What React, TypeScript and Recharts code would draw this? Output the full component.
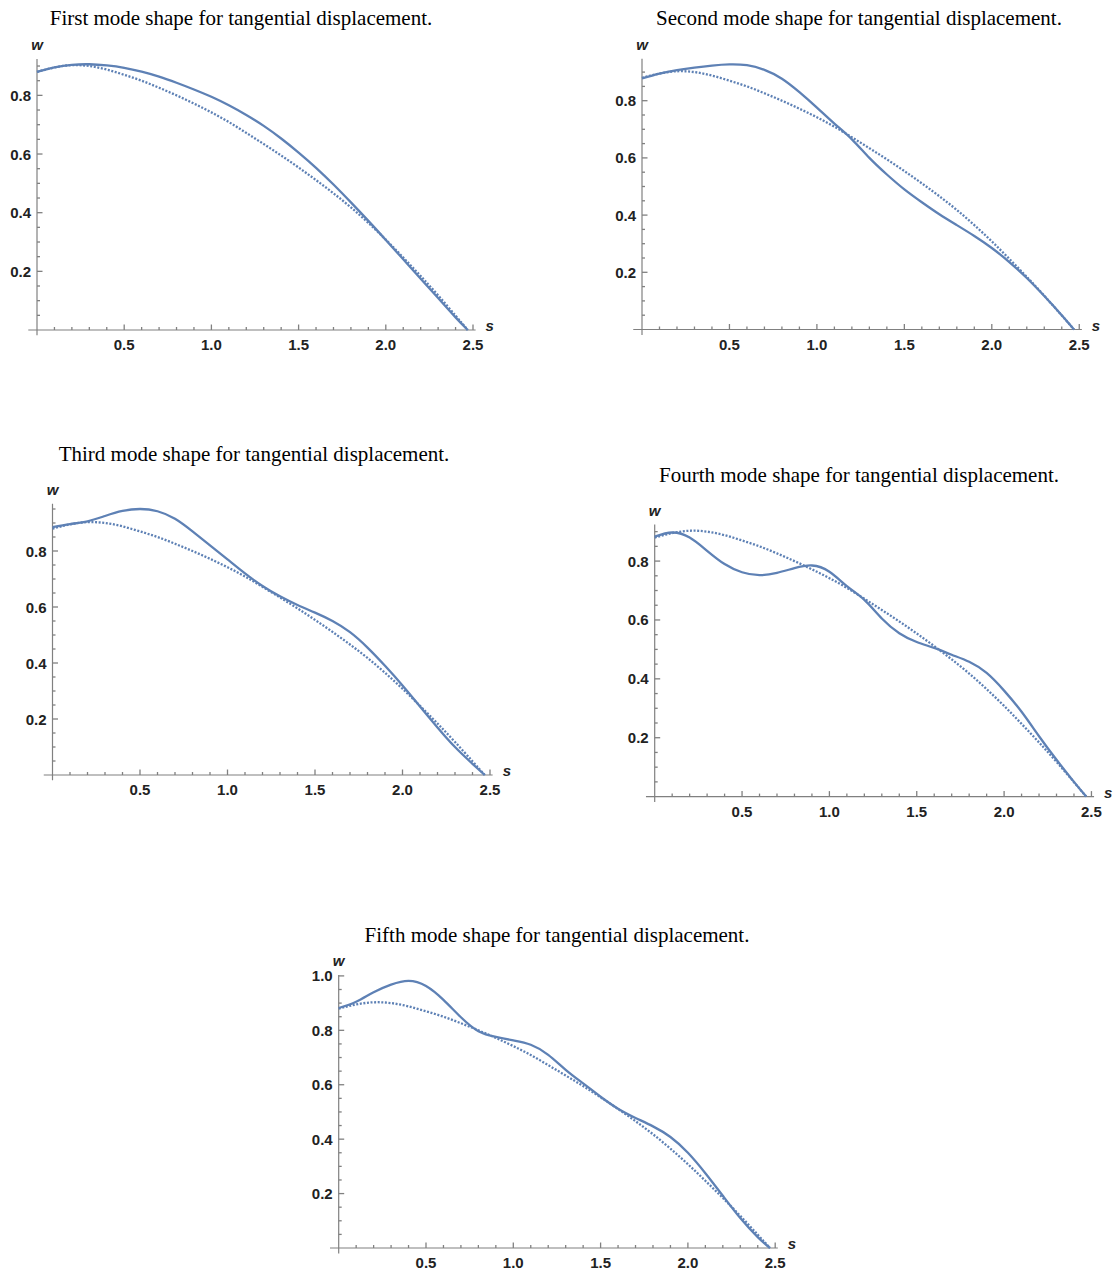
import React from 'react';
import { LineChart, Line, XAxis, YAxis, ReferenceLine } from 'recharts';

// arc-length samples shared by every panel
const sValues = [0, 0.1, 0.2, 0.3, 0.4, 0.5, 0.6, 0.7, 0.8, 0.9, 1.0, 1.1, 1.2, 1.3, 1.4, 1.5, 1.6, 1.7, 1.8, 1.9, 2.0, 2.1, 2.2, 2.3, 2.4, 2.47];

// dotted reference curve (same in all panels)
const refShape = [0.88, 0.895, 0.903, 0.9, 0.888, 0.87, 0.85, 0.826, 0.8, 0.772, 0.742, 0.709, 0.672, 0.634, 0.595, 0.554, 0.511, 0.466, 0.418, 0.365, 0.308, 0.247, 0.184, 0.118, 0.049, 0];

// solid mode shapes
const mode1 = [0.88, 0.895, 0.904, 0.906, 0.902, 0.894, 0.881, 0.864, 0.843, 0.82, 0.795, 0.766, 0.733, 0.696, 0.653, 0.605, 0.553, 0.496, 0.435, 0.372, 0.307, 0.241, 0.175, 0.109, 0.043, 0];
const mode2 = [0.878, 0.895, 0.907, 0.916, 0.923, 0.927, 0.924, 0.908, 0.877, 0.83, 0.776, 0.72, 0.665, 0.6, 0.542, 0.49, 0.445, 0.403, 0.365, 0.327, 0.285, 0.236, 0.18, 0.117, 0.05, 0];
const mode3 = [0.885, 0.896, 0.906, 0.925, 0.943, 0.95, 0.942, 0.915, 0.87, 0.82, 0.77, 0.72, 0.675, 0.638, 0.607, 0.58, 0.55, 0.51, 0.455, 0.39, 0.32, 0.245, 0.17, 0.1, 0.04, 0];
const mode4 = [0.883, 0.897, 0.88, 0.835, 0.79, 0.762, 0.752, 0.76, 0.776, 0.785, 0.764, 0.715, 0.668, 0.605, 0.555, 0.525, 0.505, 0.482, 0.458, 0.42, 0.36, 0.288, 0.205, 0.125, 0.05, 0];
const mode5 = [0.882, 0.905, 0.94, 0.968, 0.982, 0.963, 0.912, 0.848, 0.797, 0.776, 0.763, 0.747, 0.71, 0.655, 0.605, 0.556, 0.512, 0.478, 0.447, 0.408, 0.35, 0.275, 0.192, 0.11, 0.04, 0];

const xTicks = [0.1, 0.2, 0.3, 0.4, 0.5, 0.6, 0.7, 0.8, 0.9, 1.0, 1.1, 1.2, 1.3, 1.4, 1.5, 1.6, 1.7, 1.8, 1.9, 2.0, 2.1, 2.2, 2.3, 2.4, 2.5];
const xMajor = [0.5, 1.0, 1.5, 2.0, 2.5];
const yTicks = [0.05, 0.1, 0.15, 0.2, 0.25, 0.3, 0.35, 0.4, 0.45, 0.5, 0.55, 0.6, 0.65, 0.7, 0.75, 0.8, 0.85, 0.9, 0.95, 1.0];
const yMajor = [0.2, 0.4, 0.6, 0.8, 1.0];

const titles = [
  'First mode shape for tangential displacement.',
  'Second mode shape for tangential displacement.',
  'Third mode shape for tangential displacement.',
  'Fourth mode shape for tangential displacement.',
  'Fifth mode shape for tangential displacement.',
];

const W = 1114;
const H = 1273;
const LINE = '#5E81B5';
const AXIS = '#808080';
const X_MIN = -0.05;
const X_MAX = 2.515;

// layout of each panel: origin pixel, px per unit, y range, title placement
const panels = [
  { mode: mode1, px0: 37, py0: 330, kx: 174.4, ky: 293.3, ymin: -0.018, ymax: 0.924, tx: 241, ty: 6 },
  { mode: mode2, px0: 642, py0: 329.5, kx: 174.9, ky: 286, ymin: -0.019, ymax: 0.947, tx: 859, ty: 6 },
  { mode: mode3, px0: 52.5, py0: 775, kx: 175, ky: 280, ymin: -0.019, ymax: 0.969, tx: 254, ty: 442 },
  { mode: mode4, px0: 654.7, py0: 796.6, kx: 174.7, ky: 294.4, ymin: -0.018, ymax: 0.924, tx: 859, ty: 463 },
  { mode: mode5, px0: 338.7, py0: 1248, kx: 174.6, ky: 272.1, ymin: -0.02, ymax: 1.003, tx: 557, ty: 923 },
];

const isIn = (list: number[], v: number) => list.some((m) => Math.abs(m - v) < 1e-6);

const labelFont = { fontFamily: 'Liberation Sans, Arial, sans-serif', fontWeight: 'bold' as const, fontSize: 15 };

function Panel({ p, title }: { p: (typeof panels)[number]; title: string }) {
  const data = sValues.map((s, i) => ({ s, mode: p.mode[i], ref: refShape[i] }));
  // axes get 1px each (a 0px axis is not drawn at all)
  const margin = {
    left: p.px0 + p.kx * X_MIN - 1,
    right: W - (p.px0 + p.kx * X_MAX),
    top: p.py0 - p.ky * p.ymax,
    bottom: H - (p.py0 - p.ky * p.ymin) - 1,
  };
  const padY = p.ky * -p.ymin;
  const padX = p.kx * -X_MIN;
  const yt = yTicks.filter((v) => v < p.ymax);

  const XTick = (props: any) => {
    const { x, y, payload } = props;
    const y0 = y - padY;
    const major = isIn(xMajor, payload.value);
    return (
      <g>
        <line x1={x} x2={x} y1={y0} y2={y0 - (major ? 5.5 : 3)} stroke={AXIS} strokeWidth={1.3} />
        {major && (
          <text x={x} y={y0 + 20} textAnchor="middle" fill="#222" {...labelFont}>
            {payload.value.toFixed(1)}
          </text>
        )}
      </g>
    );
  };

  const YTick = (props: any) => {
    const { x, y, payload } = props;
    const x0 = x + padX;
    const major = isIn(yMajor, payload.value);
    return (
      <g>
        <line x1={x0} x2={x0 + (major ? 5.5 : 3)} y1={y} y2={y} stroke={AXIS} strokeWidth={1.3} />
        {major && (
          <text x={x0 - 6} y={y + 5.5} textAnchor="end" fill="#222" {...labelFont}>
            {payload.value.toFixed(1)}
          </text>
        )}
      </g>
    );
  };

  return (
    <>
      <div
        style={{
          position: 'absolute',
          left: p.tx - 300,
          top: p.ty,
          width: 600,
          textAlign: 'center',
          fontFamily: 'Liberation Serif, Times New Roman, serif',
          fontSize: 21,
          lineHeight: '24px',
          color: '#000',
        }}
      >
        {title}
      </div>
      <div style={{ position: 'absolute', left: 0, top: 0, width: W, height: H, pointerEvents: 'none' }}>
        <LineChart width={W} height={H} data={data} margin={margin}>
          <XAxis
            type="number"
            dataKey="s"
            domain={[X_MIN, X_MAX]}
            ticks={xTicks}
            interval={0}
            allowDataOverflow
            axisLine={false}
            tickLine={false}
            tickSize={0}
            tickMargin={0}
            height={1}
            tick={XTick}
          />
          <YAxis
            type="number"
            domain={[p.ymin, p.ymax]}
            ticks={yt}
            interval={0}
            allowDataOverflow
            axisLine={false}
            tickLine={false}
            tickSize={0}
            tickMargin={0}
            width={1}
            tick={YTick}
          />
          <ReferenceLine
            y={0}
            stroke={AXIS}
            strokeWidth={1.2}
            label={{ value: 's', position: 'right', offset: 10, dy: -4, fill: '#222', fontStyle: 'italic', ...labelFont }}
          />
          <ReferenceLine
            x={0}
            stroke={AXIS}
            strokeWidth={1.2}
            label={{ value: 'w', position: 'top', offset: 9, fill: '#222', fontStyle: 'italic', ...labelFont }}
          />
          <Line
            type="natural"
            dataKey="ref"
            stroke={LINE}
            strokeWidth={2.3}
            strokeDasharray="2 1.6"
            dot={false}
            isAnimationActive={false}
          />
          <Line type="natural" dataKey="mode" stroke={LINE} strokeWidth={2.3} dot={false} isAnimationActive={false} />
        </LineChart>
      </div>
    </>
  );
}

export default function App() {
  return (
    <div style={{ position: 'absolute', left: 0, top: 0, width: W, height: H, background: '#fff' }}>
      {panels.map((p, i) => (
        <Panel key={i} p={p} title={titles[i]} />
      ))}
    </div>
  );
}
